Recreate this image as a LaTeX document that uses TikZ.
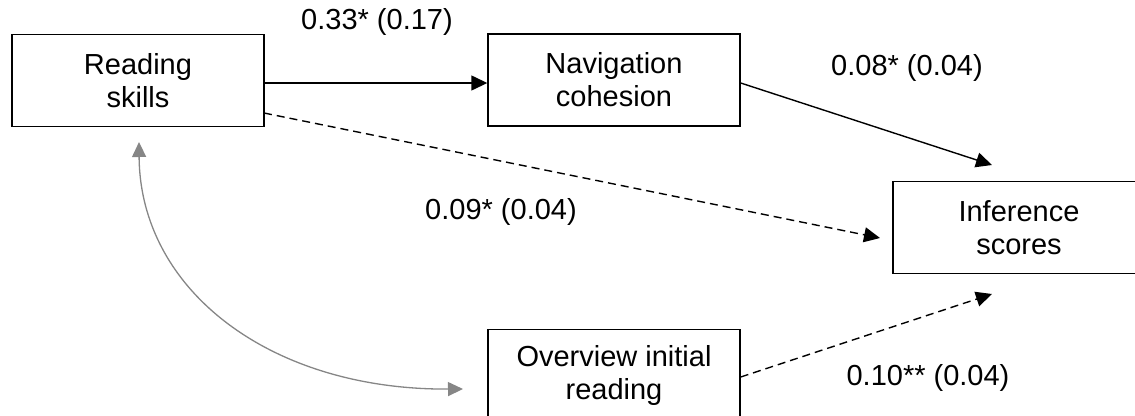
\documentclass[tikz,border=0pt]{standalone}
\usepackage{fontspec}
\setmainfont{Liberation Sans}
\usetikzlibrary{arrows.meta}
\tikzset{
  box/.style={draw=black, line width=1.4pt, minimum width=252pt, minimum height=92pt, inner sep=0pt, align=center, font=\fontsize{29}{33}\selectfont},
  lbl/.style={font=\fontsize{29}{33}\selectfont, inner sep=0pt},
  solidarrow/.style={line width=1.4pt, -{Triangle[length=16pt,width=15pt]}},
  dasharrow/.style={line width=1.4pt, dash pattern=on 8pt off 5pt, -{Triangle[length=16pt,width=15pt]}},
  grayarrow/.style={draw=gray!95, line width=1.3pt, {Triangle[length=15pt,width=14pt]}-{Triangle[length=15pt,width=14pt]}},
}
\begin{document}
\begin{tikzpicture}[x=1pt,y=-1pt]
\useasboundingbox (0,0) rectangle (1135,415);
\clip (0,0) rectangle (1135,415);
\node[box] (read) at (138,80.5) {Reading\\skills};
\node[box] (nav) at (614,80) {Navigation\\cohesion};
\node[box] (inf) at (1019,227.5) {Inference\\scores};
\node[box] (over) at (614,375.5) {Overview initial\\reading};
\coordinate (t1) at (992,165);
\coordinate (t2) at (880,238);
\coordinate (t3) at (992,294);
\coordinate (s1) at (264,113);
\coordinate (c1) at (139,142);
\coordinate (c2) at (463,389);
\draw[solidarrow] (read.east |- 0,83) -- (nav.west |- 0,83);
\draw[solidarrow] (nav.east |- 0,83) -- (t1);
\draw[dasharrow] (s1) -- (t2);
\draw[dasharrow] (over.east |- 0,377) -- (t3);
\draw[grayarrow] (c1) .. controls (140,290) and (270,390) .. (c2);
\node[lbl] (l1) at (377,22) {0.33* (0.17)};
\node[lbl] (l2) at (907,68) {0.08* (0.04)};
\node[lbl] (l3) at (501,212) {0.09* (0.04)};
\node[lbl] (l4) at (928,378) {0.10** (0.04)};
\end{tikzpicture}
\end{document}
